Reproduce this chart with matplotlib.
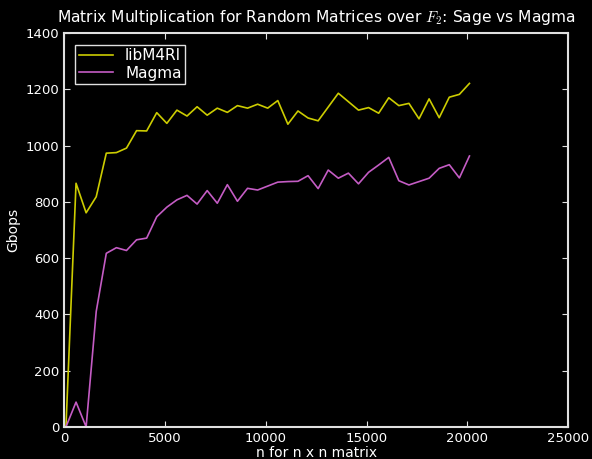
import matplotlib
matplotlib.use("Agg")
import matplotlib.pyplot as plt

# matrix sizes: 100, 600, ..., 20100
n = [100 + 500 * k for k in range(41)]

m4ri = [0, 866, 761, 818, 973, 975, 991, 1053, 1052, 1117,
        1079, 1126, 1105, 1138, 1108, 1133, 1118, 1142, 1133, 1147,
        1133, 1160, 1076, 1123, 1098, 1088, 1137, 1186, 1156, 1126,
        1135, 1115, 1170, 1142, 1150, 1095, 1166, 1099, 1172, 1182,
        1221]

magma = [0, 88, 0, 410, 617, 637, 627, 665, 671, 747,
         781, 807, 823, 792, 840, 795, 861, 802, 848, 842,
         856, 870, 872, 873, 893, 847, 913, 884, 902, 864,
         905, 931, 958, 875, 860, 872, 884, 919, 932, 885,
         963]

fg = "#e0e0e0"
plt.rcParams["mathtext.fontset"] = "cm"

fig = plt.figure(figsize=(5.92, 4.59), dpi=100, facecolor="black")
ax = fig.add_axes([0.108, 0.07, 0.852, 0.858], facecolor="black")

ax.plot(n, m4ri, color="#cccc00", lw=1.2, label="libM4RI")
ax.plot(n, magma, color="#c45cc4", lw=1.2, label="Magma")

ax.set_xlim(0, 25000)
ax.set_ylim(0, 1400)
ax.set_xticks(range(0, 25001, 5000))
ax.set_yticks(range(0, 1401, 200))

for s in ax.spines.values():
    s.set_color(fg)
    s.set_linewidth(1.5)
ax.tick_params(direction="in", top=True, right=True, colors=fg,
               labelcolor="white", labelsize=9.5, length=4)

ax.set_xlabel("n for n x n matrix", color="white", fontsize=10, labelpad=1)
ax.set_ylabel("Gbops", color="white", fontsize=10)
ax.set_title("Matrix Multiplication for Random Matrices over $F_2$: Sage vs Magma",
             color="white", fontsize=11.2, pad=8)

leg = ax.legend(loc="upper left", fontsize=11, facecolor="black",
                edgecolor=fg, fancybox=False, framealpha=1,
                borderpad=0.25, handlelength=2.2, labelspacing=0.15,
                borderaxespad=0.75)
for t in leg.get_texts():
    t.set_color("white")

fig.savefig("out.png", dpi=100, facecolor="black")
